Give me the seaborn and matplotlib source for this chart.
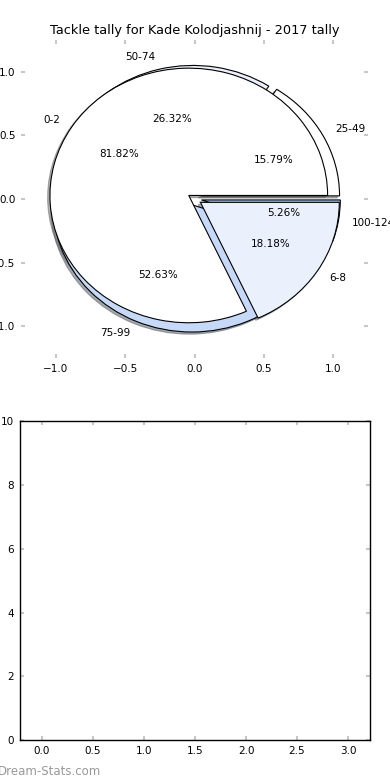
import numpy as np
import seaborn as sns
import matplotlib.pyplot as plt

# Data
outer_labels = ["25-49", "50-74", "75-99", "100-124"]
outer_counts = [3, 5, 10, 1]
inner_labels = ["0-2", "6-8"]
inner_counts = [9, 2]
slice_colors = ["white", "#EAF0FC", "#C6D9F8", "#A7C3F2"]
pie_ticks = [-1.0, -0.5, 0.0, 0.5, 1.0]
bottom_xticks = [0.0, 0.5, 1.0, 1.5, 2.0, 2.5, 3.0]
bottom_yticks = [0, 2, 4, 6, 8, 10]

sns.set_style("white")
plt.rcParams["font.family"] = ["DejaVu Sans"]
plt.rcParams["font.size"] = 7.5
plt.rcParams["text.color"] = "black"
plt.rcParams["xtick.labelcolor"] = "black"
plt.rcParams["ytick.labelcolor"] = "black"

fig = plt.figure(figsize=(3.9, 7.8), dpi=100)
ax_pie = fig.add_axes([0.054, 0.541, 0.89, 0.408])
ax_bot = fig.add_axes([0.051, 0.051, 0.898, 0.409])

# Two pies drawn on top of each other
wedge_kw = {"edgecolor": "black", "linewidth": 0.8}
shadow_kw = {"ox": -0.012, "oy": -0.012, "shade": 0.6, "alpha": 0.5}
ax_pie.pie(
    outer_counts,
    labels=outer_labels,
    colors=slice_colors[: len(outer_counts)],
    explode=[0.05] * len(outer_counts),
    autopct="%1.2f%%",
    shadow=shadow_kw,
    startangle=0,
    wedgeprops=wedge_kw,
    textprops={"fontsize": 7.5, "color": "black"},
)
ax_pie.pie(
    inner_counts,
    labels=inner_labels,
    colors=slice_colors[: len(inner_counts)],
    explode=[0.05] * len(inner_counts),
    autopct="%1.2f%%",
    shadow=shadow_kw,
    startangle=0,
    wedgeprops=wedge_kw,
    textprops={"fontsize": 7.5, "color": "black"},
)
ax_pie.set_aspect("auto")
ax_pie.set_frame_on(False)
ax_pie.set_xlim(-1.25, 1.25)
ax_pie.set_ylim(-1.25, 1.25)
ax_pie.set_xticks(pie_ticks)
ax_pie.set_yticks(pie_ticks)
ax_pie.set_title("Tackle tally for Kade Kolodjashnij - 2017 tally", fontsize=9.3, pad=4, color="black")

# Empty lower panel
ax_bot.set_xlim(-0.216, 3.216)
ax_bot.set_ylim(0, 10)
ax_bot.set_xticks(bottom_xticks)
ax_bot.set_yticks(bottom_yticks)
for spine in ax_bot.spines.values():
    spine.set_visible(True)
    spine.set_color("black")
    spine.set_linewidth(1.0)

for ax in (ax_pie, ax_bot):
    ax.tick_params(
        which="major",
        direction="in",
        length=3,
        width=1.5,
        color="#c8c8c8",
        top=True,
        right=True,
        bottom=True,
        left=True,
        labelsize=7.5,
        pad=4,
    )

fig.text(-0.006, 0.002, "Dream-Stats.com", color="#999999", fontsize=8.5, ha="left", va="bottom")

fig.savefig("out.png", dpi=100)
